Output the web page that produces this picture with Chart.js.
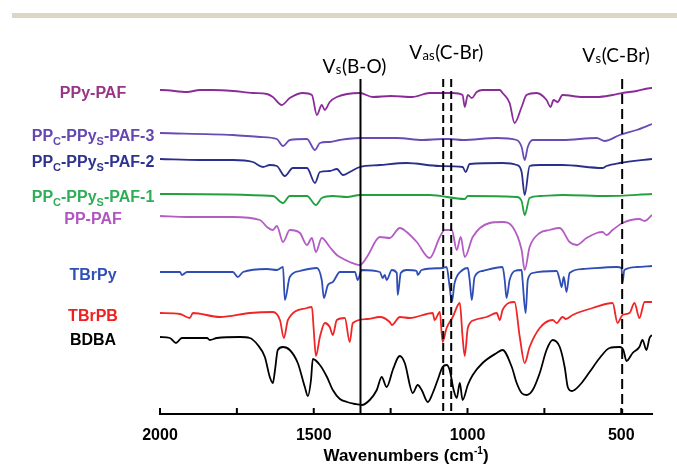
<!DOCTYPE html>
<html>
<head>
<meta charset="utf-8">
<script src="https://cdn.jsdelivr.net/npm/chart.js@4.4.1/dist/chart.umd.min.js"></script>
<style>
  html, body { margin: 0; padding: 0; background: #fff; }
  #wrap { position: relative; width: 677px; height: 465px; }
  #rule { position: absolute; left: 12px; right: 0; top: 13px; height: 5px; background: #ddd6c6; }
  canvas { position: absolute; left: 0; top: 0; }
</style>
</head>
<body>
<div id="wrap">
  <div id="rule"></div>
  <canvas id="ftir" width="677" height="465"></canvas>
</div>
<script>
// FTIR spectra, offset transmittance (a.u.) vs wavenumber (cm-1)
const ppyPafWn = [2000,1994,1912,1870,1828,1763,1698,1652,1633,1604,1578,1535,1506,1490,1474,1464,1448,1425,1350,1308,1250,1180,1123,1081,1048,1016,1009,999,986,970,951,895,886,863,847,824,808,775,743,730,720,707,691,626,580,528,496,450,402,400];
const ppyPafT  = [324,324,322,324,324,323,321,320,317,309,316,321,319,299,309,304,312,317,321,317,318,317,321,321,321,319,307,319,316,322,324,324,321,311,291,307,319,321,314,307,314,312,319,317,317,319,321,323,326,326];

const paf3Wn = [2000,1763,1675,1620,1600,1578,1522,1496,1480,1457,1448,1415,1350,1230,1146,1081,1058,1016,905,840,824,814,804,788,691,580,554,505,450,400];
const paf3T  = [281,279,277,275,268,274,275,264,271,272,272,274,276,276,274,275,275,274,276,274,267,254,267,274,274,276,273,279,284,290];

const paf2Wn = [2000,1870,1763,1698,1665,1643,1620,1594,1568,1522,1496,1480,1448,1425,1405,1383,1350,1285,1198,1090,1016,1006,993,886,840,824,814,798,765,691,561,548,505,400];
const paf2T  = [255,254,254,252,247,249,248,238,246,246,231,242,243,245,239,242,247,249,251,248,247,242,250,251,249,242,219,248,249,249,246,248,251,255];

const paf1Wn = [2000,1633,1600,1578,1522,1493,1474,1438,1392,1350,1123,1009,999,840,824,814,798,765,691,548,400];
const paf1T  = [220,218,211,218,218,209,216,218,217,219,219,215,218,217,213,199,216,218,219,218,220];

const ppPafWn = [2000,1912,1763,1675,1652,1633,1620,1600,1578,1545,1522,1506,1493,1474,1448,1425,1415,1383,1350,1327,1285,1253,1220,1198,1165,1123,1090,1074,1051,1035,1022,1009,983,928,886,853,824,814,798,765,733,700,668,645,613,580,561,548,528,496,441,424,400];
const ppPafT  = [198,197,197,194,187,184,188,172,184,181,169,176,162,176,167,159,157,152,149,157,177,176,186,182,172,156,177,184,184,164,177,157,177,191,192,187,164,144,167,181,184,186,172,169,176,181,182,179,184,191,195,193,199];

const tbrpyWn = [2000,1935,1929,1912,1763,1747,1730,1652,1620,1600,1594,1578,1545,1490,1474,1467,1454,1438,1415,1366,1357,1344,1285,1276,1269,1263,1246,1230,1227,1217,1198,1165,1162,1149,1081,1068,1058,1051,1042,1016,999,993,986,977,951,886,879,873,863,847,824,821,811,804,788,710,700,694,687,678,668,626,515,499,496,490,450,400];
const tbrpyT  = [142,142,139,142,142,137,142,145,144,147,114,137,143,146,134,116,129,132,142,142,134,144,142,136,139,134,144,141,119,141,144,143,139,144,146,147,127,112,131,144,146,134,114,137,143,147,134,116,134,143,144,134,101,134,141,143,134,127,137,122,141,145,147,146,131,144,147,148];

const tbrpbWn = [2000,1935,1903,1893,1805,1708,1633,1610,1597,1584,1522,1506,1500,1493,1480,1464,1448,1438,1425,1399,1383,1373,1327,1285,1253,1246,1220,1188,1113,1107,1090,1081,1068,1048,1025,1016,1009,999,977,938,905,895,886,847,830,814,798,765,723,710,691,680,658,635,593,528,512,496,473,457,441,424,400];
const tbrpbT  = [101,100,96,101,97,101,102,94,76,94,106,107,84,58,77,91,87,79,94,96,72,91,95,97,92,89,97,96,101,94,102,72,86,97,111,77,58,86,94,97,101,94,104,112,77,51,67,86,94,91,97,95,99,102,106,111,91,99,101,111,96,112,112];

const bdbaWn = [2000,1968,1948,1929,1847,1838,1815,1740,1708,1682,1659,1643,1633,1626,1617,1600,1578,1552,1529,1519,1509,1503,1480,1457,1438,1415,1392,1366,1344,1318,1295,1279,1263,1243,1227,1220,1204,1178,1162,1149,1129,1113,1097,1081,1068,1058,1045,1035,1025,1016,999,983,951,905,886,856,840,824,808,788,765,743,723,700,684,674,661,652,629,603,570,538,505,493,483,463,441,431,418,408,400];
const bdbaT  = [77,76,71,76,76,74,76,77,76,69,57,37,31,44,64,67,64,51,27,18,34,55,49,37,24,15,12,10,9,14,24,37,27,44,56,58,51,21,29,24,12,21,34,47,49,44,24,16,31,14,29,39,51,61,64,47,31,21,19,24,41,64,74,67,47,27,23,24,31,42,56,66,67,64,53,61,67,74,64,76,79];

// band positions (cm-1) marked with vertical lines
const bandWn = [1348, 1079, 1053, 497];
const bandDash = [[], [8, 4], [8, 4], [10, 5]];

// axis ticks
const tickValues = [2000, 1750, 1500, 1250, 1000, 750, 500];
const tickLabels = ['2000', '', '1500', '', '1000', '', '500'];

const sampleNames = [
  [['PPy-PAF', 0]],
  [['PP', 0], ['C', 1], ['-PPy', 0], ['S', 1], ['-PAF-3', 0]],
  [['PP', 0], ['C', 1], ['-PPy', 0], ['S', 1], ['-PAF-2', 0]],
  [['PP', 0], ['C', 1], ['-PPy', 0], ['S', 1], ['-PAF-1', 0]],
  [['PP-PAF', 0]],
  [['TBrPy', 0]],
  [['TBrPB', 0]],
  [['BDBA', 0]]
];
const sampleWn = [ppyPafWn, paf3Wn, paf2Wn, paf1Wn, ppPafWn, tbrpyWn, tbrpbWn, bdbaWn];
const sampleT = [ppyPafT, paf3T, paf2T, paf1T, ppPafT, tbrpyT, tbrpbT, bdbaT];
const lineColors = ['#8a2c98', '#6a4bb5', '#2b2f8c', '#23a040', '#b35cc4', '#2f4db5', '#f02525', '#000000'];
const nameColors = ['#9a3585', '#6447b0', '#2f3390', '#2fae58', '#b056bf', '#3050b8', '#ee2020', '#000000'];

const FONT = "'Liberation Sans', Arial, sans-serif";

const datasets = sampleWn.map((wn, i) => ({
  label: sampleNames[i].map(p => p[0]).join(''),
  data: wn.map((w, j) => ({x: w, y: sampleT[i][j]})),
  borderColor: lineColors[i],
  borderWidth: 1.8,
  pointRadius: 0,
  cubicInterpolationMode: 'monotone',
  fill: false
}));

// text made of normal and sub/superscript pieces, centred on cx
function drawPieces(ctx, parts, cx, cy, color, bigFont, smallFont, shift) {
  let w = 0;
  parts.forEach(([t, s]) => { ctx.font = s ? smallFont : bigFont; w += ctx.measureText(t).width; });
  let x = cx - w / 2;
  ctx.fillStyle = color;
  ctx.textBaseline = 'alphabetic';
  ctx.textAlign = 'left';
  parts.forEach(([t, s]) => {
    ctx.font = s ? smallFont : bigFont;
    ctx.fillText(t, x, cy + (s ? shift : 0));
    x += ctx.measureText(t).width;
  });
}

// "V" + subscript + rest, baseline at y
function drawBand(ctx, x, y, sub, rest) {
  ctx.fillStyle = '#000';
  ctx.textAlign = 'left';
  ctx.textBaseline = 'alphabetic';
  ctx.font = '19px Lato, sans-serif';
  ctx.fillText('V', x, y);
  x += ctx.measureText('V').width + 0.5;
  ctx.font = '13px Lato, sans-serif';
  ctx.fillText(sub, x, y + 1);
  x += ctx.measureText(sub).width + 0.5;
  ctx.font = '19px Lato, sans-serif';
  ctx.fillText(rest, x, y);
}

const overlay = {
  id: 'overlay',
  afterDatasetsDraw(chart) {
    const {ctx, chartArea, scales: {x, y}} = chart;
    ctx.save();
    // band marker lines
    ctx.strokeStyle = '#000';
    ctx.lineWidth = 2;
    bandWn.forEach((w, i) => {
      const px = x.getPixelForValue(w);
      ctx.setLineDash(bandDash[i]);
      ctx.beginPath();
      ctx.moveTo(px, y.getPixelForValue(335));
      ctx.lineTo(px, chartArea.bottom);
      ctx.stroke();
    });
    ctx.setLineDash([]);
    ctx.restore();
  },
  afterDraw(chart) {
    const {ctx, chartArea, scales: {x, y}} = chart;
    const bottom = chartArea.bottom;
    ctx.save();
    // tick marks point up into the plot, labels below the axis
    ctx.strokeStyle = '#000';
    ctx.lineWidth = 2;
    x.ticks.forEach(t => {
      const px = x.getPixelForValue(t.value);
      ctx.beginPath();
      ctx.moveTo(px, bottom);
      ctx.lineTo(px, bottom - 6);
      ctx.stroke();
      const lbl = tickLabels[tickValues.indexOf(t.value)];
      if (lbl) {
        ctx.fillStyle = '#000';
        ctx.font = 'bold 16px ' + FONT;
        ctx.textAlign = 'center';
        ctx.textBaseline = 'alphabetic';
        ctx.fillText(lbl, px, bottom + 26);
      }
    });
    // axis title
    drawPieces(ctx, [['Wavenumbers (cm', 0], ['-1', 1], [')', 0]],
      (chartArea.left + chartArea.right) / 2, bottom + 47, '#000',
      'bold 17px ' + FONT, 'bold 10px ' + FONT, -7);
    // sample names, left of each trace
    sampleNames.forEach((parts, i) => {
      const cy = y.getPixelForValue(sampleT[i][0]) + 8;
      drawPieces(ctx, parts, 93, cy, nameColors[i], 'bold 16px ' + FONT, 'bold 11px ' + FONT, 4);
    });
    // band annotations
    drawBand(ctx, x.getPixelForValue(bandWn[0]) - 38, y.getPixelForValue(341), 's', '(B-O)');
    drawBand(ctx, x.getPixelForValue(bandWn[1]) - 34, y.getPixelForValue(355), 'as', '(C-Br)');
    drawBand(ctx, x.getPixelForValue(bandWn[3]) - 40, y.getPixelForValue(352), 's', '(C-Br)');
    ctx.restore();
  }
};

new Chart(document.getElementById('ftir'), {
  type: 'line',
  data: {datasets},
  plugins: [overlay],
  options: {
    responsive: false,
    animation: false,
    layout: {padding: {left: 160, right: 25, top: 40, bottom: 51}},
    plugins: {legend: {display: false}, tooltip: {enabled: false}},
    scales: {
      x: {
        type: 'linear',
        reverse: true,
        min: 400,
        max: 2000,
        afterBuildTicks: scale => { scale.ticks = tickValues.map(v => ({value: v})); },
        afterFit: scale => { scale.height = 0; },
        ticks: {display: false},
        grid: {display: false, drawTicks: false},
        border: {display: true, color: '#000', width: 2},
        title: {display: false}
      },
      y: {display: false, min: 0, max: 374}
    }
  }
});
</script>
</body>
</html>
